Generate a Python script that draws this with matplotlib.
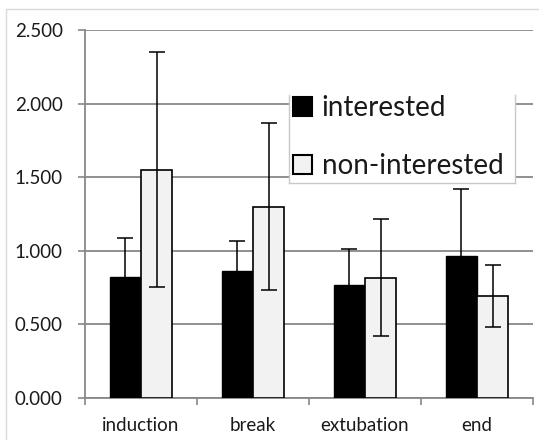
import matplotlib
matplotlib.use("Agg")
import matplotlib.pyplot as plt
import numpy as np
from matplotlib.patches import Rectangle
from matplotlib.lines import Line2D

categories = ["induction", "break", "extubation", "end"]
interested = [0.82, 0.865, 0.766, 0.967]
interested_err = [0.265, 0.20, 0.245, 0.45]
non_interested = [1.552, 1.30, 0.817, 0.693]
non_interested_err = [0.80, 0.566, 0.399, 0.21]
yticks = [0.0, 0.5, 1.0, 1.5, 2.0, 2.5]
ytick_labels = ["0.000", "0.500", "1.000", "1.500", "2.000", "2.500"]

plt.rcParams['font.family'] = ['Lato', 'DejaVu Sans']

fig = plt.figure(figsize=(5.39, 4.4), dpi=100)
fig.patches.append(Rectangle((6/539, -0.01), 1.0, 1 - 9/440 + 0.01, transform=fig.transFigure,
                             fill=False, edgecolor="#d9d9d9", linewidth=1.0, zorder=0))
ax = fig.add_axes([85/539, 1 - 398/440, (533-85)/539, (398-30)/440])

x = np.arange(len(categories))
w = 0.28
gray = "#888888"
ax.bar(x - w/2, interested, w, color="black", edgecolor="black", linewidth=1.0, zorder=3,
       label="interested")
ax.bar(x + w/2, non_interested, w, color="#f2f2f2", edgecolor="black", linewidth=1.2, zorder=3,
       label="non-interested")
ax.errorbar(x - w/2, interested, yerr=interested_err, fmt="none", ecolor="black",
            elinewidth=1.1, capsize=5.5, capthick=1.1, zorder=4)
ax.errorbar(x + w/2, non_interested, yerr=non_interested_err, fmt="none", ecolor="black",
            elinewidth=1.1, capsize=5.5, capthick=1.1, zorder=4)

ax.set_xlim(-0.5, len(categories) - 0.5)
ax.set_ylim(0, 2.5)
ax.set_yticks(yticks)
ax.set_yticklabels(ytick_labels)
ax.set_xticks(x)
ax.set_xticklabels(categories)
ax.set_xticks(np.arange(len(categories) + 1) - 0.5, minor=True)
ax.tick_params(axis="x", which="major", length=0, labelsize=13.5, colors="#1a1a1a", pad=14)
ax.tick_params(axis="x", which="minor", length=5, width=1.2, color=gray)
ax.tick_params(axis="y", length=5, width=1.2, color=gray, labelsize=13.5, labelcolor="#1a1a1a", pad=11)
ax.yaxis.grid(True, color=gray, linewidth=1.3, zorder=0)
ax.set_axisbelow(True)
for s in ["top", "right"]:
    ax.spines[s].set_visible(False)
for s in ["left", "bottom"]:
    ax.spines[s].set_color(gray)
    ax.spines[s].set_linewidth(1.3)

# legend box (open at the top, as in the reference)
lx0, lx1, ly0, ly1 = 0.455, 0.960, 0.584, 0.823
ax.add_patch(Rectangle((lx0, ly0), lx1 - lx0, ly1 - ly0, transform=ax.transAxes,
                       facecolor="white", edgecolor="none", zorder=6))
lc = "#c8c8c8"
for xs, ys in [([lx0, lx0], [ly1, ly0]), ([lx0, lx1], [ly0, ly0]), ([lx1, lx1], [ly0, ly1])]:
    ax.add_line(Line2D(xs, ys, transform=ax.transAxes, color=lc, linewidth=1.0, zorder=7,
                       clip_on=False))

leg = ax.legend(loc="center", bbox_to_anchor=(0.699, 0.709), fontsize=20,
                frameon=False, handlelength=0.68, handleheight=0.68,
                handletextpad=0.35, labelspacing=1.14, borderpad=0.05, borderaxespad=0)
leg.set_zorder(8)
for t in leg.get_texts():
    t.set_color("#1a1a1a")
for h in leg.legend_handles:
    h.set_linewidth(1.5)

fig.savefig("out.png", dpi=100)
